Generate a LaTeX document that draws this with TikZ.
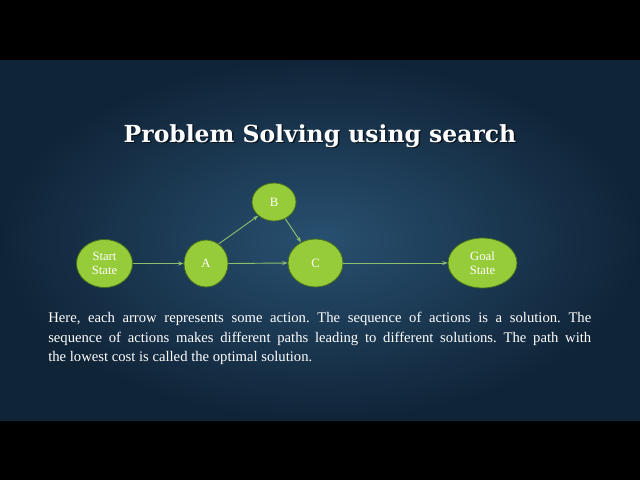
\documentclass[tikz,border=0pt]{standalone}
\usepackage{fontspec}
\setmainfont{Liberation Serif}
\newfontfamily\titlefont{DejaVu Serif}
\usetikzlibrary{shapes.geometric,arrows.meta}
\definecolor{nodefill}{RGB}{150,204,58}
\definecolor{nodeedge}{RGB}{70,110,30}
\definecolor{arrowcol}{RGB}{140,190,110}
\definecolor{bginner}{RGB}{40,80,112}
\definecolor{bgouter}{RGB}{16,36,56}
\tikzset{
  state/.style={ellipse, fill=nodefill, draw=nodeedge, line width=0.6pt, inner sep=0pt,
    text=white, font=\fontsize{9.5pt}{10.5pt}\selectfont, align=center},
  act/.style={draw=arrowcol, line width=0.7pt, -{Stealth[length=4pt,width=3pt]}}
}
\begin{document}
\begin{tikzpicture}[x=0.75pt,y=-0.75pt]
\useasboundingbox (0,0) rectangle (640,480);
\fill[black] (0,0) rectangle (640,480);
\shade[inner color=bginner, outer color=bgouter] (0,60) rectangle (640,420);
% title
\node[text=black, opacity=0.6, font=\titlefont\bfseries\fontsize{17.6pt}{20pt}\selectfont] (titleshadow) at (321.5,137.5) {Problem Solving using search};
\node[text=white, font=\titlefont\bfseries\fontsize{17.6pt}{20pt}\selectfont] (title) at (320,136) {Problem Solving using search};
% nodes
\node[state, minimum width=42pt, minimum height=36pt] (start) at (104.5,263.5) {Start\\State};
\node[state, minimum width=33pt, minimum height=35.25pt] (A) at (206,263.5) {A};
\node[state, minimum width=33pt, minimum height=28.5pt] (B) at (274,202) {B};
\node[state, minimum width=41.25pt, minimum height=36pt] (C) at (315.5,263) {C};
\node[state, minimum width=51.75pt, minimum height=37.5pt] (goal) at (482.5,263) {Goal\\State};
% arrows
\draw[act] (start.east) -- (A.west);
\draw[act] (A.57) -- (B.221);
\draw[act] (B.304) -- (C.125);
\draw[act] (A.east) -- (C.west);
\draw[act] (C.east) -- (goal.west);
% body text
\node[anchor=north west, inner sep=0pt, text width=407.25pt, align=justify, text=white,
  font=\fontsize{11pt}{14.6pt}\selectfont\frenchspacing] (body) at (48,312) {Here, each arrow represents some action. The sequence of actions is a solution. The\linebreak sequence of actions makes different paths leading to different solutions. The path with\linebreak the lowest cost is called the optimal solution.};
\end{tikzpicture}
\end{document}
